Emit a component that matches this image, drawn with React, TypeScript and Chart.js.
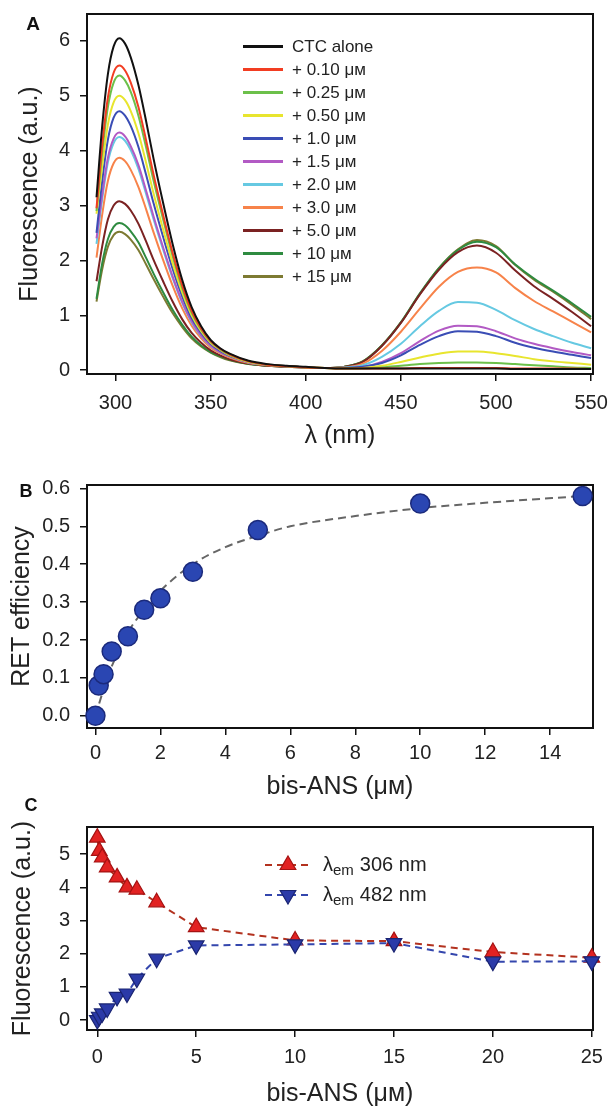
import React, { useEffect, useRef } from 'react';
import { Chart, registerables } from 'chart.js';

Chart.register(...registerables);

const FONT = "'Liberation Sans', Arial, Helvetica, sans-serif";
Chart.defaults.font.family = FONT;
Chart.defaults.color = '#222';

// ---------------- Panel A : emission spectra ----------------
const WAVELENGTH_NM = [290, 293, 296, 299, 302, 305, 308, 312, 316, 320, 325, 330, 335, 340, 345, 350, 355, 360, 370, 380, 390, 400, 410, 420, 430, 440, 450, 460, 470, 480, 490, 500, 510, 520, 530, 540, 550];

const A_LABELS = ['CTC alone', '+ 0.10 μм', '+ 0.25 μм', '+ 0.50 μм', '+ 1.0 μм', '+ 1.5 μм', '+ 2.0 μм', '+ 3.0 μм', '+ 5.0 μм', '+ 10 μм', '+ 15 μм'];
const A_COLORS = ['#111111', '#f23d22', '#6cc04a', '#e8e52e', '#3a4db5', '#b25ac4', '#66c9e2', '#f7834a', '#7b2222', '#2e8b40', '#7d7a32'];

const CTC_ALONE = [3.15, 4.45, 5.4, 5.9, 6.05, 5.95, 5.7, 5.2, 4.55, 3.85, 3.05, 2.3, 1.65, 1.15, 0.8, 0.55, 0.4, 0.3, 0.17, 0.11, 0.08, 0.06, 0.04, 0.03, 0.03, 0.03, 0.03, 0.03, 0.03, 0.03, 0.03, 0.03, 0.02, 0.02, 0.02, 0.02, 0.02];
const ADD_0_10 = [2.95, 4.1, 4.97, 5.42, 5.55, 5.46, 5.24, 4.8, 4.2, 3.56, 2.83, 2.14, 1.55, 1.08, 0.76, 0.53, 0.39, 0.29, 0.16, 0.1, 0.07, 0.05, 0.04, 0.03, 0.03, 0.03, 0.03, 0.04, 0.04, 0.04, 0.04, 0.04, 0.03, 0.03, 0.03, 0.03, 0.02];
const ADD_0_25 = [2.9, 3.97, 4.8, 5.24, 5.37, 5.28, 5.07, 4.64, 4.07, 3.45, 2.75, 2.08, 1.5, 1.05, 0.74, 0.52, 0.38, 0.28, 0.16, 0.1, 0.07, 0.05, 0.04, 0.03, 0.03, 0.05, 0.08, 0.11, 0.13, 0.14, 0.14, 0.13, 0.11, 0.09, 0.07, 0.05, 0.04];
const ADD_0_50 = [2.85, 3.72, 4.48, 4.88, 5.0, 4.92, 4.72, 4.32, 3.79, 3.22, 2.57, 1.95, 1.42, 1.0, 0.71, 0.5, 0.37, 0.27, 0.15, 0.1, 0.07, 0.05, 0.04, 0.03, 0.04, 0.08, 0.15, 0.23, 0.3, 0.34, 0.34, 0.31, 0.26, 0.2, 0.16, 0.13, 0.1];
const ADD_1_0 = [2.5, 3.45, 4.2, 4.6, 4.72, 4.64, 4.45, 4.07, 3.57, 3.04, 2.43, 1.85, 1.35, 0.95, 0.68, 0.48, 0.35, 0.26, 0.15, 0.1, 0.07, 0.05, 0.04, 0.04, 0.06, 0.13, 0.27, 0.46, 0.62, 0.71, 0.7, 0.62, 0.5, 0.41, 0.34, 0.28, 0.22];
const ADD_1_5 = [2.4, 3.2, 3.87, 4.22, 4.33, 4.26, 4.08, 3.74, 3.28, 2.8, 2.24, 1.71, 1.25, 0.89, 0.63, 0.45, 0.33, 0.25, 0.14, 0.1, 0.07, 0.05, 0.04, 0.04, 0.06, 0.15, 0.31, 0.53, 0.72, 0.81, 0.8, 0.71, 0.58, 0.48, 0.4, 0.33, 0.27];
const ADD_2_0 = [2.3, 3.12, 3.79, 4.14, 4.25, 4.18, 4.01, 3.67, 3.22, 2.75, 2.2, 1.68, 1.23, 0.87, 0.62, 0.44, 0.33, 0.25, 0.14, 0.1, 0.07, 0.05, 0.04, 0.05, 0.09, 0.24, 0.48, 0.8, 1.08, 1.24, 1.23, 1.1, 0.91, 0.75, 0.62, 0.5, 0.4];
const ADD_3_0 = [2.05, 2.84, 3.45, 3.77, 3.87, 3.81, 3.65, 3.34, 2.94, 2.51, 2.01, 1.54, 1.13, 0.81, 0.58, 0.41, 0.31, 0.23, 0.13, 0.09, 0.07, 0.05, 0.04, 0.05, 0.12, 0.35, 0.7, 1.12, 1.52, 1.79, 1.87, 1.78, 1.5, 1.26, 1.07, 0.88, 0.69];
const ADD_5_0 = [1.62, 2.26, 2.75, 3.0, 3.08, 3.03, 2.91, 2.67, 2.35, 2.01, 1.62, 1.25, 0.93, 0.68, 0.5, 0.36, 0.27, 0.2, 0.12, 0.08, 0.06, 0.05, 0.04, 0.06, 0.15, 0.44, 0.86, 1.38, 1.83, 2.15, 2.27, 2.14, 1.82, 1.53, 1.3, 1.06, 0.8];
const ADD_10 = [1.3, 1.95, 2.39, 2.61, 2.68, 2.64, 2.53, 2.33, 2.05, 1.76, 1.42, 1.1, 0.83, 0.61, 0.45, 0.33, 0.25, 0.19, 0.11, 0.08, 0.06, 0.05, 0.04, 0.06, 0.16, 0.45, 0.87, 1.4, 1.86, 2.19, 2.34, 2.24, 1.93, 1.67, 1.45, 1.22, 0.97];
const ADD_15 = [1.25, 1.84, 2.25, 2.46, 2.52, 2.48, 2.38, 2.19, 1.93, 1.66, 1.34, 1.04, 0.79, 0.58, 0.43, 0.32, 0.24, 0.18, 0.11, 0.08, 0.06, 0.05, 0.04, 0.06, 0.16, 0.45, 0.87, 1.39, 1.86, 2.2, 2.37, 2.26, 1.92, 1.65, 1.43, 1.19, 0.93];
const A_SERIES = [CTC_ALONE, ADD_0_10, ADD_0_25, ADD_0_50, ADD_1_0, ADD_1_5, ADD_2_0, ADD_3_0, ADD_5_0, ADD_10, ADD_15];

const A_X_TICKS = [300, 350, 400, 450, 500, 550];
const A_Y_TICKS = [0, 1, 2, 3, 4, 5, 6];

// ---------------- Panel B : RET efficiency ----------------
const BIS_ANS_B = [0, 0.1, 0.25, 0.5, 1, 1.5, 2, 3, 5, 10, 15];
const RET_EFFICIENCY = [0.0, 0.08, 0.11, 0.17, 0.21, 0.28, 0.31, 0.38, 0.49, 0.56, 0.58];
const FIT_X = [0, 0.25, 0.5, 1, 1.5, 2, 3, 4, 5, 6, 8, 10, 12, 15];
const FIT_Y = [0, 0.07, 0.13, 0.22, 0.28, 0.33, 0.4, 0.445, 0.475, 0.5, 0.527, 0.548, 0.562, 0.58];
const B_X_TICKS = [0, 2, 4, 6, 8, 10, 12, 14];
const B_Y_TICKS = [0, 0.1, 0.2, 0.3, 0.4, 0.5, 0.6];

// ---------------- Panel C : intensities vs bis-ANS ----------------
const BIS_ANS_C = [0, 0.1, 0.25, 0.5, 1, 1.5, 2, 3, 5, 10, 15, 20, 25];
const EM_306 = [5.5, 5.1, 4.9, 4.6, 4.3, 4.0, 3.93, 3.55, 2.8, 2.4, 2.38, 2.05, 1.88];
const EM_482 = [0.0, 0.1, 0.2, 0.35, 0.7, 0.8, 1.25, 1.85, 2.25, 2.28, 2.32, 1.76, 1.77];
const C_LEGEND = ['306 nm', '482 nm'];
const C_X_TICKS = [0, 5, 10, 15, 20, 25];
const C_Y_TICKS = [0, 1, 2, 3, 4, 5];

const W = 611;

type AxisSpec = {
  min: number; max: number; ticks: number[]; fmt?: (v: number) => string;
  title: string; titleSize: number; titlePad: number; tickPad: number; size: number;
};

function xAxis(s: AxisSpec): any {
  return {
    type: 'linear', position: 'bottom', min: s.min, max: s.max,
    afterBuildTicks: (sc: any) => { sc.ticks = s.ticks.map((v) => ({ value: v })); },
    afterFit: (sc: any) => { sc.height = s.size; sc.paddingLeft = 0; sc.paddingRight = 0; },
    ticks: {
      autoSkip: false, maxRotation: 0, minRotation: 0, padding: s.tickPad, color: '#222', font: { size: 20 },
      callback: (v: any) => (s.fmt ? s.fmt(Number(v)) : String(v)),
    },
    grid: { display: true, drawOnChartArea: false, drawTicks: true, tickLength: 7, color: '#111', lineWidth: 1.5 },
    border: { display: false },
    title: { display: true, text: s.title, color: '#222', font: { size: s.titleSize }, padding: { top: 0, bottom: s.titlePad } },
  };
}

function yAxis(s: AxisSpec): any {
  return {
    type: 'linear', position: 'left', min: s.min, max: s.max,
    afterBuildTicks: (sc: any) => { sc.ticks = s.ticks.map((v) => ({ value: v })); },
    afterFit: (sc: any) => { sc.width = s.size; sc.paddingTop = 0; sc.paddingBottom = 0; },
    ticks: {
      autoSkip: false, padding: s.tickPad, color: '#222', font: { size: 20 },
      callback: (v: any) => (s.fmt ? s.fmt(Number(v)) : String(v)),
    },
    grid: { display: true, drawOnChartArea: false, drawTicks: true, tickLength: 7, color: '#111', lineWidth: 1.5 },
    border: { display: false },
    title: { display: true, text: s.title, color: '#222', font: { size: s.titleSize }, padding: { top: s.titlePad, bottom: 0 } },
  };
}

const framePlugin = {
  id: 'frame',
  beforeDatasetsDraw(chart: any) {
    const { ctx, chartArea: a } = chart;
    ctx.save();
    ctx.strokeStyle = '#111';
    ctx.lineWidth = 2;
    ctx.strokeRect(a.left, a.top, a.right - a.left, a.bottom - a.top);
    ctx.restore();
  },
};

function panelLabel(text: string, x: number, y: number, size: number) {
  return {
    id: 'panelLabel' + text,
    afterDraw(chart: any) {
      const ctx = chart.ctx;
      ctx.save();
      ctx.font = `bold ${size}px ${FONT}`;
      ctx.fillStyle = '#111';
      ctx.textAlign = 'center';
      ctx.textBaseline = 'middle';
      ctx.fillText(text, x, y);
      ctx.restore();
    },
  };
}

const legendAPlugin = {
  id: 'legendA',
  afterDraw(chart: any) {
    const ctx = chart.ctx;
    ctx.save();
    chart.data.datasets.forEach((ds: any, i: number) => {
      const y = 46.5 + i * 23;
      ctx.strokeStyle = ds.borderColor;
      ctx.lineWidth = 3;
      ctx.beginPath();
      ctx.moveTo(243, y);
      ctx.lineTo(283, y);
      ctx.stroke();
      ctx.font = `17px ${FONT}`;
      ctx.fillStyle = '#222';
      ctx.textAlign = 'left';
      ctx.textBaseline = 'middle';
      ctx.fillText(ds.label, 292, y + 1);
    });
    ctx.restore();
  },
};

function tri(ctx: any, x: number, y: number, r: number, down: boolean) {
  const s = down ? -1 : 1;
  ctx.beginPath();
  ctx.moveTo(x, y - s * r);
  ctx.lineTo(x + r * 0.866, y + s * r / 2);
  ctx.lineTo(x - r * 0.866, y + s * r / 2);
  ctx.closePath();
}

const legendCPlugin = {
  id: 'legendC',
  afterDraw(chart: any) {
    const ctx = chart.ctx;
    ctx.save();
    chart.data.datasets.forEach((ds: any, i: number) => {
      const y = 70 + i * 30;
      ctx.strokeStyle = ds.borderColor;
      ctx.lineWidth = 2;
      ctx.setLineDash([7, 5]);
      ctx.beginPath();
      ctx.moveTo(265, y);
      ctx.lineTo(311, y);
      ctx.stroke();
      ctx.setLineDash([]);
      tri(ctx, 288, y, 9, i === 1);
      ctx.fillStyle = ds.pointBackgroundColor;
      ctx.fill();
      ctx.strokeStyle = ds.pointBorderColor;
      ctx.lineWidth = 1.2;
      ctx.stroke();
      ctx.fillStyle = '#222';
      ctx.textAlign = 'left';
      ctx.textBaseline = 'middle';
      ctx.font = `20px ${FONT}`;
      let x = 323;
      ctx.fillText('λ', x, y);
      x += ctx.measureText('λ').width;
      ctx.font = `15px ${FONT}`;
      ctx.fillText('em', x, y + 6);
      x += ctx.measureText('em').width + 6;
      ctx.font = `20px ${FONT}`;
      ctx.fillText(C_LEGEND[i], x, y);
    });
    ctx.restore();
  },
};

function configA(): any {
  return {
    type: 'line',
    data: {
      datasets: A_SERIES.map((vals, i) => ({
        label: A_LABELS[i],
        data: WAVELENGTH_NM.map((w, j) => ({ x: w, y: vals[j] })),
        borderColor: A_COLORS[i],
        borderWidth: 2,
        pointRadius: 0,
        cubicInterpolationMode: 'monotone',
        fill: false,
      })),
    },
    options: {
      responsive: false, animation: false, devicePixelRatio: 1, events: [],
      layout: { padding: { top: 14, right: 18, left: 0, bottom: 0 } },
      plugins: { legend: { display: false }, tooltip: { enabled: false } },
      scales: {
        x: xAxis({ min: 285, max: 551, ticks: A_X_TICKS, title: 'λ (nm)', titleSize: 25, titlePad: 9, tickPad: 10, size: 86 }),
        y: yAxis({ min: -0.07, max: 6.49, ticks: A_Y_TICKS, title: 'Fluorescence (a.u.)', titleSize: 25, titlePad: 15, tickPad: 10, size: 87 }),
      },
    },
    plugins: [framePlugin, legendAPlugin, panelLabel('A', 33, 25, 19)],
  };
}

function configB(): any {
  return {
    type: 'line',
    data: {
      datasets: [
        {
          label: 'RET efficiency',
          data: BIS_ANS_B.map((x, i) => ({ x, y: RET_EFFICIENCY[i] })),
          showLine: false,
          pointRadius: 9.5,
          pointBackgroundColor: '#2a46b2',
          pointBorderColor: '#1b2a7c',
          pointBorderWidth: 1.5,
          borderColor: '#2a46b2',
          clip: false,
          order: 0,
        },
        {
          label: 'fit',
          data: FIT_X.map((x, i) => ({ x, y: FIT_Y[i] })),
          borderColor: '#666666',
          borderWidth: 2,
          borderDash: [8, 5],
          pointRadius: 0,
          cubicInterpolationMode: 'monotone',
          order: 1,
        },
      ],
    },
    options: {
      responsive: false, animation: false, devicePixelRatio: 1, events: [],
      layout: { padding: { top: 20, right: 18, left: 0, bottom: 0 } },
      plugins: { legend: { display: false }, tooltip: { enabled: false } },
      scales: {
        x: xAxis({ min: -0.26, max: 15.32, ticks: B_X_TICKS, title: 'bis-ANS (μм)', titleSize: 25, titlePad: 3, tickPad: 6.5, size: 77 }),
        y: yAxis({ min: -0.032, max: 0.609, ticks: B_Y_TICKS, fmt: (v) => v.toFixed(1), title: 'RET efficiency', titleSize: 25, titlePad: 7, tickPad: 10, size: 87 }),
      },
    },
    plugins: [framePlugin, panelLabel('B', 26, 27, 18)],
  };
}

function configC(): any {
  return {
    type: 'line',
    data: {
      datasets: [
        {
          label: '306',
          data: BIS_ANS_C.map((x, i) => ({ x, y: EM_306[i] })),
          borderColor: '#b3321f',
          borderWidth: 2,
          borderDash: [7, 5],
          pointStyle: 'triangle',
          pointRadius: 9,
          pointBackgroundColor: '#e22222',
          pointBorderColor: '#a51212',
          pointBorderWidth: 1.2,
          tension: 0,
          clip: false,
          order: 1,
        },
        {
          label: '482',
          data: BIS_ANS_C.map((x, i) => ({ x, y: EM_482[i] })),
          borderColor: '#3446ad',
          borderWidth: 2,
          borderDash: [7, 5],
          pointStyle: 'triangle',
          pointRotation: 180,
          pointRadius: 9,
          pointBackgroundColor: '#2b3aa8',
          pointBorderColor: '#1a2472',
          pointBorderWidth: 1.2,
          tension: 0,
          clip: false,
          order: 0,
        },
      ],
    },
    options: {
      responsive: false, animation: false, devicePixelRatio: 1, events: [],
      layout: { padding: { top: 32, right: 18, left: 0, bottom: 0 } },
      plugins: { legend: { display: false }, tooltip: { enabled: false } },
      scales: {
        x: xAxis({ min: -0.52, max: 25.06, ticks: C_X_TICKS, title: 'bis-ANS (μм)', titleSize: 25, titlePad: 0, tickPad: 8, size: 79 }),
        y: yAxis({ min: -0.3, max: 5.82, ticks: C_Y_TICKS, title: 'Fluorescence (a.u.)', titleSize: 25, titlePad: 8, tickPad: 10, size: 87 }),
      },
    },
    plugins: [framePlugin, legendCPlugin, panelLabel('C', 31, 11, 18)],
  };
}

export default function App() {
  const refA = useRef<HTMLCanvasElement>(null);
  const refB = useRef<HTMLCanvasElement>(null);
  const refC = useRef<HTMLCanvasElement>(null);

  useEffect(() => {
    const charts = [
      new Chart(refA.current as HTMLCanvasElement, configA()),
      new Chart(refB.current as HTMLCanvasElement, configB()),
      new Chart(refC.current as HTMLCanvasElement, configC()),
    ];
    return () => charts.forEach((c) => c.destroy());
  }, []);

  const cv = (top: number, h: number): React.CSSProperties => ({
    position: 'absolute', left: 0, top, width: W, height: h, display: 'block',
  });

  return (
    <div style={{ position: 'absolute', left: 0, top: 0, width: W, height: 1109, background: '#fff', overflow: 'hidden' }}>
      <canvas ref={refA} width={W} height={460} style={cv(0, 460)} />
      <canvas ref={refB} width={W} height={340} style={cv(465, 340)} />
      <canvas ref={refC} width={W} height={314} style={cv(795, 314)} />
    </div>
  );
}
